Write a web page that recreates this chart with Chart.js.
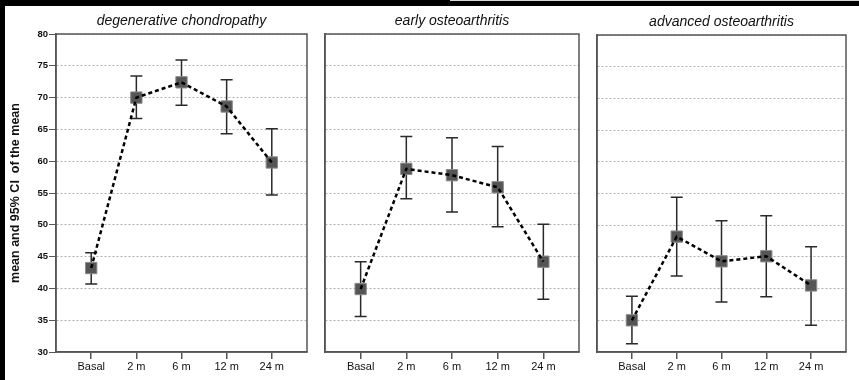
<!DOCTYPE html>
<html>
<head>
<meta charset="utf-8">
<script src="https://cdn.jsdelivr.net/npm/chart.js@4"></script>
<style>
  html, body { margin: 0; padding: 0; background: #fff; }
  #page { position: relative; width: 859px; height: 380px; overflow: hidden; background: #fff; }
  .band { position: absolute; background: #000; }
  .panel { position: absolute; }
</style>
</head>
<body>
<div id="page">
  <div class="band" style="left:0;top:0;width:859px;height:6px"></div>
  <div class="band" style="left:450px;top:0;width:409px;height:1px;background:#d8d8d8"></div>
  <div class="band" style="left:0;top:0;width:5px;height:380px"></div>
  <div class="panel" style="left:6px;top:6px"><canvas id="c1" width="310" height="374"></canvas></div>
  <div class="panel" style="left:316px;top:6px"><canvas id="c2" width="272" height="374"></canvas></div>
  <div class="panel" style="left:588px;top:7px"><canvas id="c3" width="271" height="373"></canvas></div>
</div>
<script>
// time points
const xLabels = ['Basal', '2 m', '6 m', '12 m', '24 m']
const yMin = 30, yMax = 80, yStep = 5

// degenerative chondropathy
const degMean = [43.2, 70.0, 72.4, 68.6, 59.8]
const degLow  = [40.7, 66.7, 68.8, 64.3, 54.7]
const degHigh = [45.6, 73.4, 75.9, 72.8, 65.1]

// early osteoarthritis
const earlyMean = [39.9, 58.8, 57.8, 55.9, 44.2]
const earlyLow  = [35.6, 54.1, 52.0, 49.7, 38.3]
const earlyHigh = [44.2, 63.9, 63.7, 62.3, 50.1]

// advanced osteoarthritis
const advMean = [35.0, 48.2, 44.3, 45.1, 40.5]
const advLow  = [31.3, 42.0, 37.9, 38.7, 34.2]
const advHigh = [38.8, 54.4, 50.7, 51.5, 46.6]

const FONT = "'Liberation Sans', Arial, sans-serif"

// whiskers for the 95% CI, placed with the chart scales
const errorBars = {
  id: 'errorBars',
  beforeDatasetsDraw(chart, args, opts) {
    const { ctx, scales: { x, y } } = chart
    ctx.save()
    ctx.strokeStyle = '#2a2a2a'; ctx.lineWidth = 1.5
    opts.low.forEach((lo, i) => {
      const px = x.getPixelForValue(i)
      const pLo = y.getPixelForValue(lo), pHi = y.getPixelForValue(opts.high[i])
      ctx.beginPath()
      ctx.moveTo(px, pLo); ctx.lineTo(px, pHi)
      ctx.moveTo(px - 6, pLo); ctx.lineTo(px + 6, pLo)
      ctx.moveTo(px - 6, pHi); ctx.lineTo(px + 6, pHi)
      ctx.stroke()
    })
    ctx.restore()
  }
}

// box around the plot area
const frame = {
  id: 'frame',
  afterDraw(chart) {
    const { ctx, chartArea: a } = chart
    ctx.save()
    ctx.strokeStyle = '#555'; ctx.lineWidth = 1.5
    ctx.strokeRect(a.left, a.top, a.right - a.left, a.bottom - a.top)
    ctx.restore()
  }
}

function makePanel(id, title, mean, low, high, showY, pad) {
  const pts = mean.map((v, i) => ({ x: i, y: v }))
  return new Chart(document.getElementById(id), {
    type: 'line',
    data: {
      datasets: [
        { data: pts, borderColor: '#000', borderWidth: 2.5, borderDash: [4, 3], pointRadius: 0, fill: false, order: 0 },
        { data: pts, showLine: false, pointStyle: 'rect', pointRadius: 8, pointBackgroundColor: '#555', pointBorderColor: '#8a8a8a', pointBorderWidth: 1, order: 1 }
      ]
    },
    options: {
      responsive: false, animation: false,
      layout: { padding: pad },
      scales: {
        x: {
          type: 'linear', min: -0.78, max: 4.78,
          afterBuildTicks: s => { s.ticks = xLabels.map((_, i) => ({ value: i })) },
          afterFit: s => { s.height = 28 },
          ticks: { callback: v => xLabels[v], color: '#111', font: { family: FONT, size: 11 }, padding: 1, maxRotation: 0, autoSkip: false },
          grid: { drawOnChartArea: false, color: '#555', tickLength: 7, lineWidth: 1.5 },
          border: { color: '#555', width: 1.5 }
        },
        y: {
          min: yMin, max: yMax,
          afterFit: s => { s.width = showY ? 50 : 0 },
          ticks: { display: showY, stepSize: yStep, color: '#111', font: { family: FONT, size: 9.5, weight: 'bold' }, padding: 1 },
          grid: { color: '#b0b0b0', lineWidth: 1, drawTicks: showY, tickLength: 7, tickColor: '#555' },
          border: { color: '#555', width: 1.5, dash: [2, 2] },
          title: { display: showY, text: 'mean and 95% CI  of the mean', color: '#111', font: { family: FONT, size: 12.5, weight: 'bold' }, padding: { top: 2, bottom: 0 } }
        }
      },
      plugins: {
        legend: { display: false }, tooltip: { enabled: false },
        title: { display: true, fullSize: false, text: title, color: '#111', font: { family: FONT, size: 14, style: 'italic', weight: 'normal' }, padding: { top: 7, bottom: 4.2 } },
        errorBars: { low, high }
      }
    },
    plugins: [errorBars, frame]
  })
}

makePanel('c1', 'degenerative chondropathy', degMean, degLow, degHigh, true, { left: 0, right: 8, top: 0, bottom: 0 })
makePanel('c2', 'early osteoarthritis', earlyMean, earlyLow, earlyHigh, false, { left: 8, right: 8, top: 0, bottom: 0 })
makePanel('c3', 'advanced osteoarthritis', advMean, advLow, advHigh, false, { left: 5, right: 13, top: 0, bottom: 0 })
</script>
</body>
</html>
